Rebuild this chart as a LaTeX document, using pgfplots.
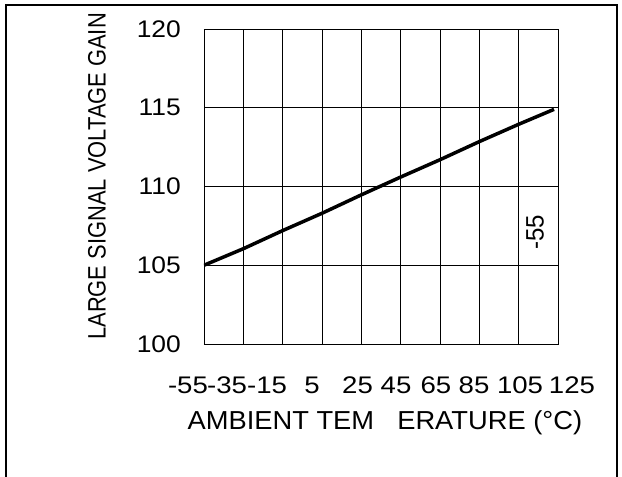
\documentclass[border=0pt]{standalone}
\usepackage{fontspec}
\setmainfont{Liberation Sans}
\usepackage{graphicx}
\usepackage{pgfplots}
\pgfplotsset{compat=1.18}
\newcommand{\xl}[2]{\makebox[0pt]{\hspace*{#1}\scalebox{1.15}[1]{#2}}}
\newcommand{\yl}[1]{\scalebox{1.1}[1]{#1}}
\begin{document}
\begin{tikzpicture}
\useasboundingbox (0pt,0pt) rectangle (622pt,477pt);
\draw[line width=2pt] (6pt,0pt) -- (6pt,472pt) -- (617pt,472pt) -- (617pt,0pt);
\begin{axis}[
  at={(204pt,133pt)}, anchor=south west,
  scale only axis, width=354pt, height=315pt,
  xmin=-55, xmax=125, ymin=100, ymax=120,
  xtick={-55,-35,...,125}, ytick={100,105,...,120},
  xticklabels={\xl{-32pt}{-55},\xl{-32.6pt}{-35},\xl{-31.2pt}{-15},\xl{-20pt}{5},\xl{-7.6pt}{25},\xl{-9.2pt}{45},\xl{-8pt}{65},\xl{-10.6pt}{85},\xl{2.8pt}{105},\xl{28pt}{125}},
  yticklabels={\yl{100},\yl{105},\yl{110},\yl{115},\yl{120}},
  major tick length=0pt,
  grid=major, grid style={black, line width=0.8pt},
  axis line style={black, line width=0.8pt},
  tick label style={font=\fontsize{24}{28}\selectfont},
  xticklabel style={anchor=center, inner sep=0pt, yshift=-41pt},
  yticklabel style={anchor=east, inner sep=0pt, xshift=-23pt},
  xlabel={\scalebox{1.05}[1]{AMBIENT TEM\hspace*{22pt}ERATURE (°C)}},
  ylabel={\scalebox{1}[1.15]{LARGE SIGNAL VOLTAGE GAIN}},
  every axis x label/.style={at={(axis description cs:0.511,0)}, yshift=-79pt, anchor=center, inner sep=0pt, font=\fontsize{26}{30}\selectfont},
  every axis y label/.style={at={(axis description cs:0,0.532)}, xshift=-107pt, rotate=90, anchor=center, inner sep=0pt, font=\fontsize{21.9}{26}\selectfont},
]
\addplot[black, line width=3.5pt] coordinates {
  (-55,105.0) (-35,106.05) (-15,107.2) (5,108.3) (25,109.47) (45,110.6) (65,111.7) (85,112.85) (105,113.95) (123,114.9)
};
\node[rotate=90, inner sep=0pt, font=\fontsize{24}{28}\selectfont] at (axis cs:113.3,107.1) {\scalebox{1}[1.05]{-55}};
\end{axis}
\end{tikzpicture}
\end{document}
